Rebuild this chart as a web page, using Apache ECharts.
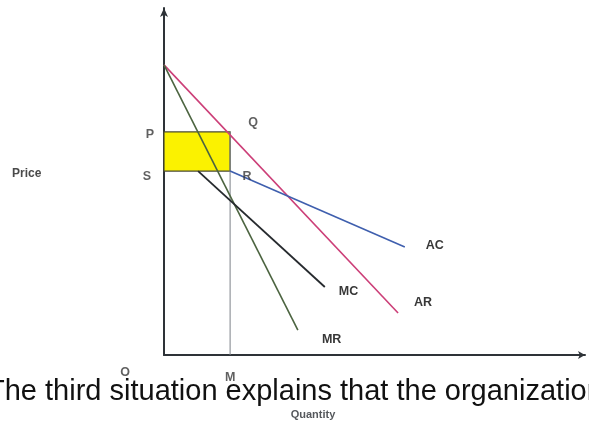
<!DOCTYPE html>
<html>
<head>
<meta charset="utf-8">
<script src="https://cdn.jsdelivr.net/npm/echarts@6/dist/echarts.min.js"></script>
<style>
  html, body { margin: 0; padding: 0; background: #ffffff; }
  #chart { width: 589px; height: 423px; }
</style>
</head>
<body>
<div id="chart"></div>
<script>
// Monopoly-style cost/revenue diagram (price vs quantity)
const priceP = 64.3;      // price level P
const costS = 53.0;       // average cost level S
const qtyM = 15.7;        // output M

const arLine = [[0, 83.6], [55.6, 12.1]];   // average revenue (demand)
const mrLine = [[0, 83.6], [31.8, 7.2]];    // marginal revenue
const mcLine = [[8.1, 53.0], [38.2, 19.6]]; // marginal cost
const acLine = [[15.7, 53.0], [57.2, 31.1]];// average cost

const curveNames = ['AR', 'MR', 'MC', 'AC'];

// Point labels sit on the named points of the diagram
const pointNames = ['P', 'S', 'Q', 'R', 'O', 'M'];
const pointValues = [[0, priceP], [0, costS], [qtyM, priceP], [qtyM, costS], [0, 0], [qtyM, 0]];
const pointOffsets = [[-14, 3], [-17, 5], [23, -9], [17, 5], [-39, 18], [0, 23]];

const caption = 'The third situation explains that the organization';

const labelFont = { fontFamily: 'Liberation Sans, Arial, sans-serif', fontWeight: 'bold', fontSize: 12.5, color: '#383838' };

const chart = echarts.init(document.getElementById('chart'), null, { renderer: 'canvas' });

function curve(name, data, color, width, offset) {
  return {
    name: name,
    type: 'line',
    data: data,
    symbol: 'none',
    silent: true,
    lineStyle: { color: color, width: width },
    endLabel: Object.assign({ show: true, formatter: name, offset: offset, align: 'left', verticalAlign: 'middle' }, labelFont),
    z: 3
  };
}

chart.setOption({
  animation: false,
  backgroundColor: '#ffffff',
  grid: { left: 164, right: 4, top: 8, bottom: 68, containLabel: false },
  xAxis: {
    type: 'value', min: 0, max: 100,
    axisLine: { show: true, symbol: ['none', 'arrow'], symbolSize: [6, 7], lineStyle: { color: '#2e3338', width: 2 } },
    axisTick: { show: false }, axisLabel: { show: false }, splitLine: { show: false }
  },
  yAxis: {
    type: 'value', min: 0, max: 100,
    axisLine: { show: true, symbol: ['none', 'arrow'], symbolSize: [6, 9], lineStyle: { color: '#2e3338', width: 2 } },
    axisTick: { show: false }, axisLabel: { show: false }, splitLine: { show: false }
  },
  series: [
    {
      name: 'profit',
      type: 'line',
      data: [[0, costS], [qtyM, costS]],
      symbol: 'none',
      lineStyle: { width: 0 },
      silent: true,
      markArea: {
        silent: true,
        itemStyle: { color: '#fbf200', borderColor: '#4a4a30', borderWidth: 1.2 },
        data: [[{ coord: [0, costS] }, { coord: [qtyM, priceP] }]]
      },
      z: 1
    },
    {
      name: 'guide',
      type: 'line',
      data: [[qtyM, 0], [qtyM, priceP]],
      symbol: 'none',
      silent: true,
      lineStyle: { color: '#7d8288', width: 1 },
      z: 2
    },
    curve(curveNames[0], arLine, '#cc3f78', 1.6, [8, -10]),
    curve(curveNames[1], mrLine, '#4c6440', 1.6, [16, 10]),
    curve(curveNames[2], mcLine, '#262a2e', 1.8, [6, 5]),
    curve(curveNames[3], acLine, '#3f5fae', 1.6, [13, -2]),
    {
      name: 'points',
      type: 'scatter',
      symbolSize: 0,
      clip: false,
      silent: true,
      data: pointNames.map((n, i) => ({
        value: pointValues[i],
        label: Object.assign({ show: true, formatter: n, position: 'inside', offset: pointOffsets[i] }, labelFont)
      })),
      z: 4
    }
  ],
  graphic: [
    {
      type: 'text', left: 12, top: 168,
      style: { text: 'Price', font: 'bold 12px Liberation Sans, Arial, sans-serif', fill: '#4a4a4a' }
    },
    {
      type: 'text', x: -13, y: 392,
      style: { text: caption, font: '29px Liberation Sans, Arial, sans-serif', fill: '#111111', verticalAlign: 'middle' },
      z: 10
    },
    {
      type: 'text', x: 313, y: 415,
      style: { text: 'Quantity', font: 'bold 11px Liberation Sans, Arial, sans-serif', fill: '#55585c', align: 'center', verticalAlign: 'middle' }
    }
  ]
});
</script>
</body>
</html>
